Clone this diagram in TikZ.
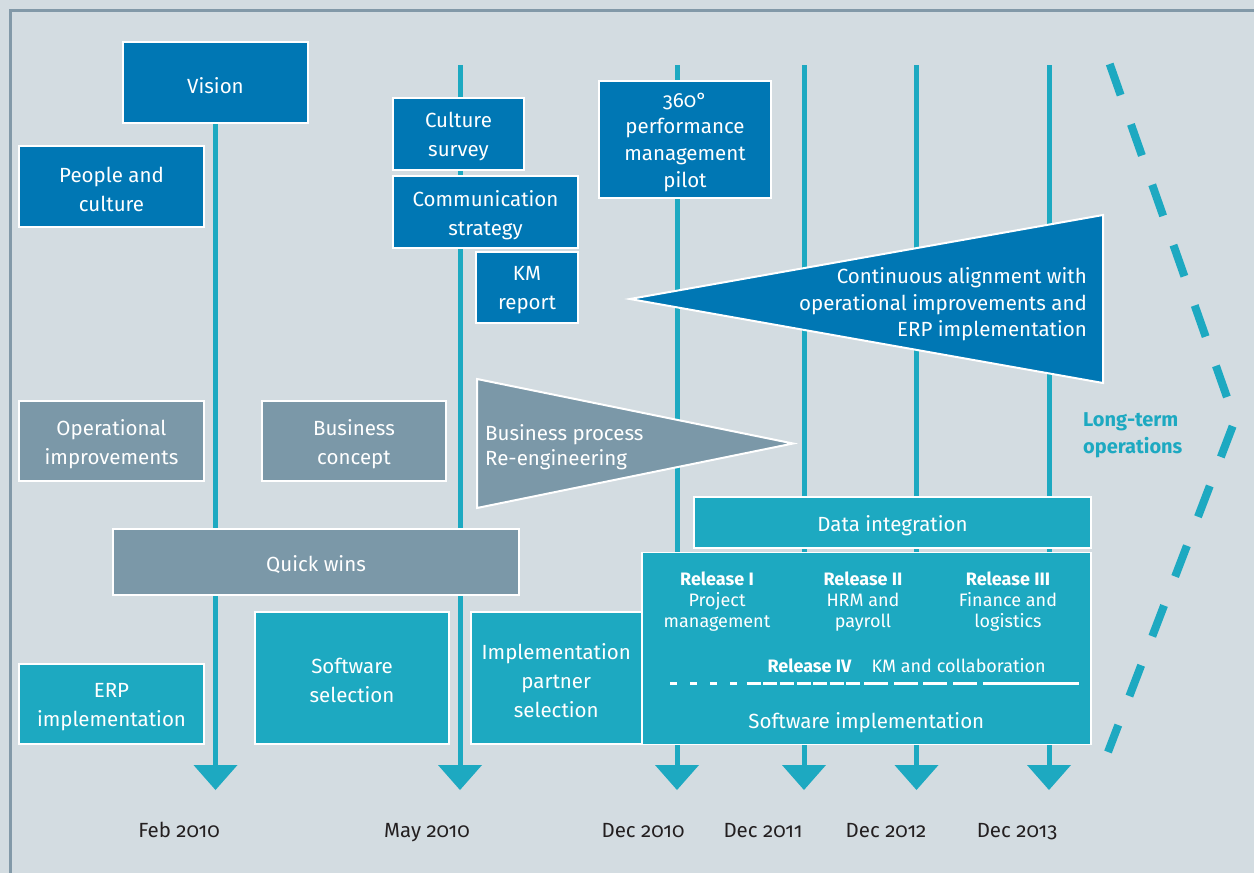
\documentclass[tikz,border=0pt]{standalone}
\usepackage{fontspec}
\setmainfont{Fira Sans}[Numbers=OldStyle]
\usetikzlibrary{arrows.meta}
\definecolor{bgc}{HTML}{D3DCE1}
\definecolor{framec}{HTML}{8299A8}
\definecolor{dblue}{HTML}{0077B4}
\definecolor{tealc}{HTML}{1DA9C1}
\definecolor{greyc}{HTML}{7B98A8}
\definecolor{darkc}{HTML}{231F20}
\pgfdeclarelayer{bg}
\pgfsetlayers{bg,main}
\newcommand\mainfs{\fontsize{20.5}{29}\selectfont}
\newcommand\relfs{\fontsize{18}{21}\selectfont}
\begin{document}
\begin{tikzpicture}[x=1pt,y=-1pt,
  box/.style={draw=white, line width=1.5pt, inner sep=0pt},
  dbox/.style={box, fill=dblue},
  gbox/.style={box, fill=greyc},
  tbox/.style={box, fill=tealc},
  btext/.style={text=white, align=center, inner sep=0pt, font=\mainfs, yshift=-2.7pt},
  tline/.style={draw=tealc, line width=5pt, -{Triangle[width=44pt,length=25pt,line width=0pt]}},
  dlabel/.style={anchor=base, text=darkc, font=\mainfs, inner sep=0pt},
  rel/.style={text=white, align=center, inner sep=0pt, font=\relfs},
  wtext/.style={text=white, inner sep=0pt},
  tri/.style={draw=white, line width=2pt, line join=miter}
]
\useasboundingbox (0,0) rectangle (1254,873);

% blue boxes
\node[dbox, minimum width=185pt, minimum height=81pt] (vision) at (215.5,82.5) {};
\node[btext] (visiont) at (vision.center) {Vision};
\node[dbox, minimum width=185pt, minimum height=81pt] (people) at (111.5,186.5) {};
\node[btext] (peoplet) at (people.center) {People and\\culture};
\node[dbox, minimum width=131pt, minimum height=72pt] (survey) at (458.5,134) {};
\node[btext] (surveyt) at (survey.center) {Culture\\survey};
\node[dbox, minimum width=185pt, minimum height=72pt] (comm) at (485.5,212) {};
\node[btext] (commt) at (comm.center) {Communication\\strategy};
\node[dbox, minimum width=102pt, minimum height=71pt] (km) at (527,287.5) {};
\node[btext] (kmt) at (km.center) {KM\\report};
\node[dbox, minimum width=172pt, minimum height=117pt] (pilot) at (685,139.5) {};
\node[btext, font=\fontsize{20.5}{26.6}\selectfont] (pilott) at (pilot.center) {360°\\performance\\management\\pilot};

% grey boxes
\node[gbox, minimum width=185pt, minimum height=80pt] (oper) at (111.5,441) {};
\node[btext] (opert) at (oper.center) {Operational\\improvements};
\node[gbox, minimum width=184pt, minimum height=80pt] (concept) at (354,441) {};
\node[btext] (conceptt) at (concept.center) {Business\\concept};
\node[gbox, minimum width=406pt, minimum height=66pt] (quick) at (316,562) {};
\node[btext] (quickt) at (quick.center) {Quick wins};

% teal boxes
\node[tbox, minimum width=194pt, minimum height=132pt] (swsel) at (352,678) {};
\node[btext] (swselt) at (swsel.center) {Software\\selection};
\node[tbox, minimum width=171pt, minimum height=132pt] (partner) at (556.25,678) {};
\node[btext] (partnert) at (partner.center) {Implementation\\partner\\selection};
\node[tbox, minimum width=185pt, minimum height=80pt] (erp) at (111.5,704) {};
\node[btext] (erpt) at (erp.center) {ERP\\implementation};
\node[tbox, minimum width=397pt, minimum height=51pt] (data) at (892.5,522.5) {};
\node[btext] (datat) at (data.center) {Data integration};
\node[tbox, minimum width=449pt, minimum height=192pt] (swimpl) at (866.5,648.25) {};

% triangles
\draw[tri, fill=dblue] (630,299) -- (1103,215) -- (1103,383) -- cycle;
\node[wtext, font=\fontsize{20.5}{26.5}\selectfont, align=right, anchor=east] (align) at (1087,304.3) {Continuous alignment with\\operational improvements and\\ERP implementation};
\draw[tri, fill=greyc] (477,379) -- (793,443.5) -- (477,508) -- cycle;
\node[wtext, font=\fontsize{20.5}{25}\selectfont, align=left, anchor=west] (bpr) at (485,446.8) {Business process\\Re-engineering};

% software implementation content
\node[rel] (r1) at (717,601.2) {{\bfseries Release I}\\Project\\management};
\node[rel] (r2) at (863,601.2) {{\bfseries Release II}\\HRM and\\payroll};
\node[rel] (r3) at (1008,601.2) {{\bfseries Release III}\\Finance and\\logistics};
\node[wtext, font=\relfs\bfseries, anchor=base west] (r4) at (767.3,672.7) {Release IV};
\node[wtext, font=\relfs, anchor=base west] (r4t) at (871.3,672.7) {KM and collaboration};
\node[wtext, font=\mainfs, anchor=base] (swtxt) at (866.3,728.5) {Software implementation};
\draw[white, line width=2.5pt, dash pattern=on 7pt off 13pt] (670,683.3) -- (738,683.3);
\draw[white, line width=2.5pt, dash pattern=on 14pt off 2.6pt] (746.7,683.3) -- (860,683.3);
\draw[white, line width=2.5pt, dash pattern=on 24pt off 5.5pt] (864.3,683.3) -- (976.7,683.3);
\draw[white, line width=2.5pt] (982.7,683.3) -- (1078.7,683.3);

% long-term operations
\draw[tealc, line width=8pt, dash pattern=on 33pt off 31pt] (1109.7,64) -- (1235,420) -- (1108,752);
\node[text=tealc, font=\fontsize{20}{26.5}\selectfont\bfseries, align=left, anchor=north west, inner sep=0pt] (lto) at (1083,412.5) {Long-term\\operations};

% date labels
\node[dlabel] (d1) at (179,837) {Feb 2010};
\node[dlabel] (d2) at (427,837) {May 2010};
\node[dlabel] (d3) at (643,837) {Dec 2010};
\node[dlabel] (d4) at (763,837) {Dec 2011};
\node[dlabel] (d5) at (886,837) {Dec 2012};
\node[dlabel] (d6) at (1017,837) {Dec 2013};

\coordinate (a1) at (215.5,790);
\coordinate (t2) at (460,65);   \coordinate (a2) at (460,790);
\coordinate (t3) at (677,65);   \coordinate (a3) at (677,790);
\coordinate (t4) at (804,65);   \coordinate (a4) at (804,790);
\coordinate (t5) at (916.5,65); \coordinate (a5) at (916.5,790);
\coordinate (t6) at (1049,65);  \coordinate (a6) at (1049,790);

\begin{pgfonlayer}{bg}
\fill[bgc] (0,0) rectangle (1254,873);
\draw[framec, line width=3pt, line join=miter] (10,873) -- (10,10.5) -- (1254,10.5);
\draw[tline] (vision.south) -- (a1);
\draw[tline] (t2) -- (a2);
\draw[tline] (t3) -- (a3);
\draw[tline] (t4) -- (a4);
\draw[tline] (t5) -- (a5);
\draw[tline] (t6) -- (a6);
\end{pgfonlayer}
\end{tikzpicture}
\end{document}
